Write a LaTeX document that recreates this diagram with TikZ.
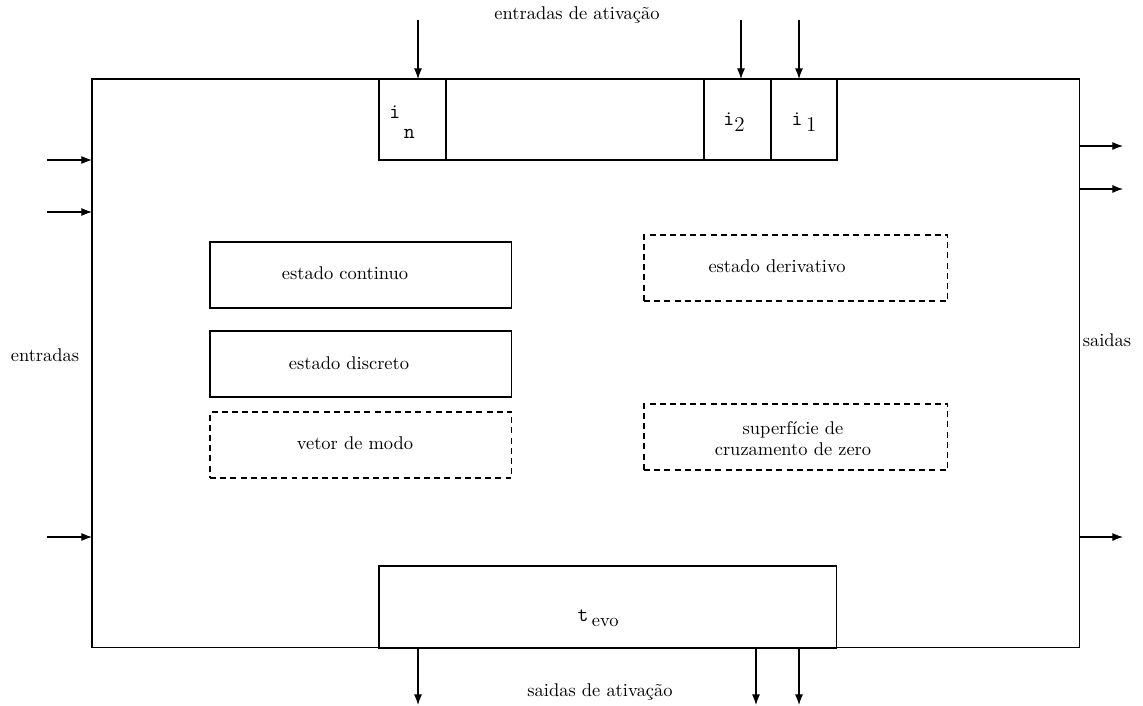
\documentclass[tikz,border=0pt]{standalone}
\usetikzlibrary{arrows.meta}
\begin{document}
\begin{tikzpicture}[x=0.02cm,y=-0.02cm,
  every node/.style={inner sep=0pt, outer sep=0pt},
  box/.style={draw, line width=0.6pt, rectangle, anchor=north west},
  dbox/.style={box, dash pattern=on 3.4pt off 2.4pt},
  lbl/.style={font=\fontsize{10.5}{12}\selectfont},
  ilbl/.style={font=\fontsize{12}{14}\selectfont},
  arr/.style={line width=0.6pt, -{Latex[length=6pt,width=4.5pt]}}]
\useasboundingbox (0,0) rectangle (1143,706);
% main block
\node[box, minimum width=19.76cm, minimum height=11.38cm] (main) at (92,79) {};
% top activation input cells
\node[box, minimum width=1.34cm, minimum height=1.62cm] (in) at (379,79) {};
\node[box, minimum width=5.16cm, minimum height=1.62cm] (mid) at (446,79) {};
\node[box, minimum width=1.34cm, minimum height=1.62cm] (i2) at (704,79) {};
\node[box, minimum width=1.32cm, minimum height=1.62cm] (i1) at (771,79) {};
\node[ilbl] (inl) at (402,122) {\texttt{i}\raisebox{-2.2ex}{\,\texttt{n}}};
\node[ilbl] (i2l) at (734,122) {\texttt{i}\raisebox{-0.6ex}{2}};
\node[ilbl] (i1l) at (804,122) {\texttt{i}\,\raisebox{-0.6ex}{1}};
% t_evo
\node[box, minimum width=9.16cm, minimum height=1.64cm] (tevo) at (379,566) {};
\node[ilbl] (tevol) at (598,618) {\texttt{t}\,\raisebox{-0.6ex}{\fontsize{10.5}{12}\selectfont evo}};
% inner boxes
\node[box, minimum width=6.04cm, minimum height=1.32cm] (ec) at (210,242) {};
\node[lbl] (ecl) at (345,273) {estado continuo};
\node[box, minimum width=6.04cm, minimum height=1.32cm] (ed) at (210,331) {};
\node[lbl] (edl) at (349,363) {estado discreto};
\node[dbox, minimum width=6.04cm, minimum height=1.32cm] (vm) at (210,412) {};
\node[lbl] (vml) at (355,443) {vetor de modo};
\node[dbox, minimum width=6.08cm, minimum height=1.32cm] (edv) at (644,235) {};
\node[lbl] (edvl) at (777,266) {estado derivativo};
\node[dbox, minimum width=6.08cm, minimum height=1.32cm] (sc) at (644,404) {};
\node[lbl, align=center] (scl) at (793,439) {superf\'icie de\\ cruzamento de zero};
% labels
\node[lbl] (ea) at (577,15) {entradas de ativa\c{c}\~ao};
\node[lbl] (sa) at (600,692) {saidas de ativa\c{c}\~ao};
\node[lbl] (ent) at (45,355) {entradas};
\node[lbl] (sai) at (1107,340) {saidas};
% top arrows
\coordinate (t1) at (418,20);
\coordinate (t2) at (741,20);
\coordinate (t3) at (799,20);
\draw[arr] (t1) -- (t1 |- main.north);
\draw[arr] (t2) -- (t2 |- main.north);
\draw[arr] (t3) -- (t3 |- main.north);
% bottom arrows
\coordinate (b1) at (418,705);
\coordinate (b2) at (756,705);
\coordinate (b3) at (799,705);
\draw[arr] (b1 |- main.south) -- (b1);
\draw[arr] (b2 |- main.south) -- (b2);
\draw[arr] (b3 |- main.south) -- (b3);
% left arrows
\coordinate (l1) at (47,160);
\coordinate (l2) at (47,212);
\coordinate (l3) at (47,537);
\draw[arr] (l1) -- (l1 -| main.west);
\draw[arr] (l2) -- (l2 -| main.west);
\draw[arr] (l3) -- (l3 -| main.west);
% right arrows
\coordinate (r1) at (1123,146);
\coordinate (r2) at (1123,189);
\coordinate (r3) at (1123,537);
\draw[arr] (r1 -| main.east) -- (r1);
\draw[arr] (r2 -| main.east) -- (r2);
\draw[arr] (r3 -| main.east) -- (r3);
\end{tikzpicture}
\end{document}
